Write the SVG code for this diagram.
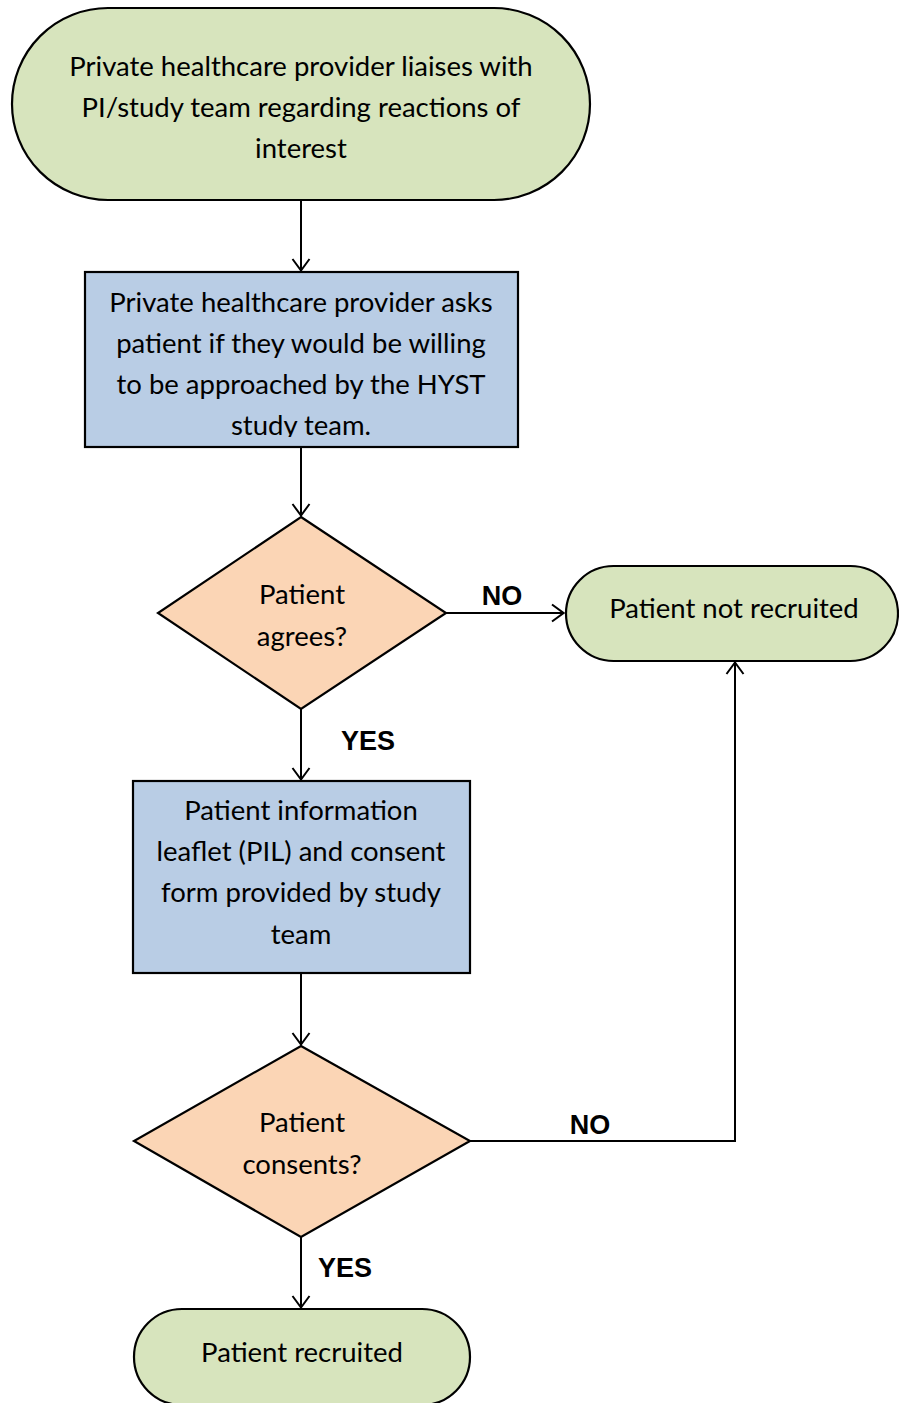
<svg xmlns="http://www.w3.org/2000/svg" width="899" height="1403" viewBox="0 0 899 1403">
  <style>
    .term { fill: #D7E4BD; stroke: #000; stroke-width: 2.2; }
    .proc { fill: #B9CDE5; stroke: #000; stroke-width: 2.2; }
    .dec { fill: #FBD5B5; stroke: #000; stroke-width: 2.2; }
    .t { font-family: Lato, "Liberation Sans", sans-serif; font-size: 27.5px; fill: #000; text-anchor: middle; }
    .lbl { font-family: "Liberation Sans", Arial, sans-serif; font-size: 27px; font-weight: bold; fill: #000; text-anchor: middle; }
    .edge { fill: none; stroke: #000; stroke-width: 2; }
  </style>
  <defs>
    <marker id="arrow" viewBox="0 0 14 20" refX="13" refY="10" markerWidth="14" markerHeight="20" markerUnits="userSpaceOnUse" orient="auto">
      <path d="M1,1.5 L12.5,10 L1,18.5" fill="none" stroke="#000" stroke-width="2"/>
    </marker>
    <clipPath id="clip-ask">
      <rect x="86" y="273" width="431" height="164"/>
    </clipPath>
  </defs>
  <rect width="899" height="1403" fill="#fff"/>

  <g id="connectors">
    <line class="edge" x1="301" y1="200" x2="301" y2="271" marker-end="url(#arrow)"/>
    <line class="edge" x1="301" y1="447" x2="301" y2="516" marker-end="url(#arrow)"/>
    <line class="edge" x1="446" y1="613" x2="564" y2="613" marker-end="url(#arrow)"/>
    <line class="edge" x1="301" y1="709" x2="301" y2="780" marker-end="url(#arrow)"/>
    <line class="edge" x1="301" y1="973" x2="301" y2="1045" marker-end="url(#arrow)"/>
    <polyline class="edge" points="470,1141 735,1141 735,662" marker-end="url(#arrow)"/>
    <line class="edge" x1="301" y1="1237" x2="301" y2="1308" marker-end="url(#arrow)"/>
    <text class="lbl" x="502" y="605">NO</text>
    <text class="lbl" x="368" y="750">YES</text>
    <text class="lbl" x="590" y="1134">NO</text>
    <text class="lbl" x="345" y="1277">YES</text>
  </g>

  <g id="start">
    <rect class="term" x="12" y="8" width="578" height="192" rx="96" ry="96"/>
    <text class="t" x="301" y="76">Private healthcare provider liaises with</text>
    <text class="t" x="301" y="117">PI/study team regarding reactions of</text>
    <text class="t" x="301" y="158">interest</text>
  </g>

  <g id="ask">
    <rect class="proc" x="85" y="272" width="433" height="175"/>
    <g clip-path="url(#clip-ask)">
      <text class="t" x="301" y="312">Private healthcare provider asks</text>
      <text class="t" x="301" y="353">patient if they would be willing</text>
      <text class="t" x="301" y="394">to be approached by the HYST</text>
      <text class="t" x="301" y="435">study team.</text>
    </g>
  </g>

  <g id="agrees">
    <polygon class="dec" points="301,517 446,613 301,709 158,613"/>
    <text class="t" x="302" y="604">Patient</text>
    <text class="t" x="302" y="646">agrees?</text>
  </g>

  <g id="not-recruited">
    <rect class="term" x="566" y="566" width="332" height="95" rx="47.5" ry="47.5"/>
    <text class="t" x="734" y="618">Patient not recruited</text>
  </g>

  <g id="pil">
    <rect class="proc" x="133" y="781" width="337" height="192"/>
    <text class="t" x="301" y="820">Patient information</text>
    <text class="t" x="301" y="861">leaflet (PIL) and consent</text>
    <text class="t" x="301" y="902">form provided by study</text>
    <text class="t" x="301" y="944">team</text>
  </g>

  <g id="consents">
    <polygon class="dec" points="301,1046 470,1141 301,1237 134,1141"/>
    <text class="t" x="302" y="1132">Patient</text>
    <text class="t" x="302" y="1174">consents?</text>
  </g>

  <g id="recruited">
    <rect class="term" x="134" y="1309" width="336" height="96" rx="48" ry="48"/>
    <text class="t" x="302" y="1362">Patient recruited</text>
  </g>
</svg>
